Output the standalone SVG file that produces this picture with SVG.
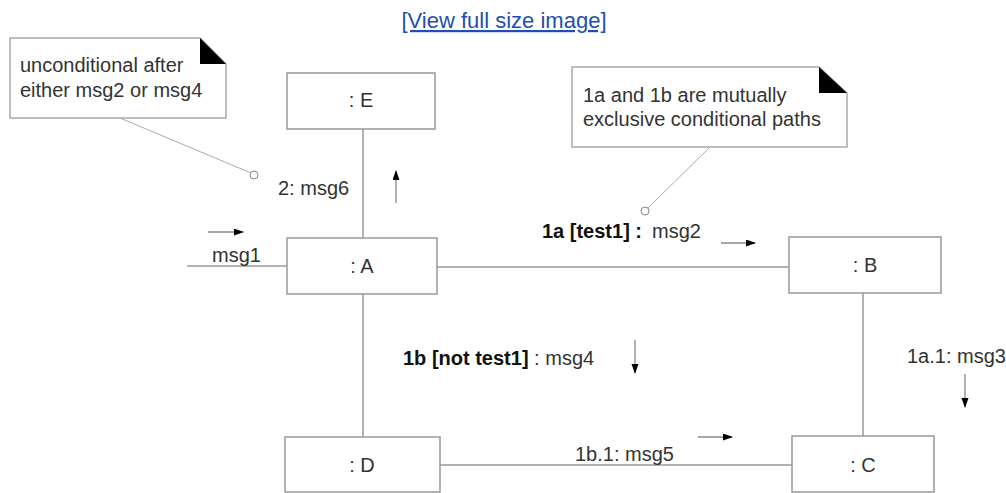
<svg xmlns="http://www.w3.org/2000/svg" width="1006" height="493" viewBox="0 0 1006 493">
<style>
text{font-family:"Liberation Sans",Arial,sans-serif;font-size:20px;fill:#333}
.b{font-weight:bold;fill:#111}
.box{fill:#fff;stroke:#999;stroke-width:1.5}
.link{stroke:#999;stroke-width:1.5;fill:none}
.lead{stroke:#aaa;stroke-width:1;fill:none}
.arr{stroke:#888;stroke-width:1.3;fill:none;marker-end:url(#ah)}
.note{fill:#fff;stroke:#aaa;stroke-width:1.5}
.ear{fill:#000}
.pin{fill:#fff;stroke:#888;stroke-width:1}
.c{text-anchor:middle}
</style>
<defs>
<marker id="ah" markerWidth="10" markerHeight="8" refX="9" refY="3.5" orient="auto" markerUnits="userSpaceOnUse">
<path d="M0,0 L10,3.5 L0,7 Z" fill="#000"/>
</marker>
</defs>
<text x="504" y="28" class="c" style="fill:#1f4fb0;font-size:22px;text-decoration:underline">[View full size image]</text>

<g id="connectors">
<line class="link" x1="187" y1="266" x2="287" y2="266"/>
<line class="link" x1="363" y1="129" x2="363" y2="238"/>
<line class="link" x1="437" y1="267" x2="789" y2="267"/>
<line class="link" x1="363" y1="294" x2="363" y2="437"/>
<line class="link" x1="863" y1="293" x2="863" y2="436"/>
<line class="link" x1="440" y1="465" x2="792" y2="465"/>
<line class="arr" x1="208" y1="232" x2="243" y2="232"/>
<line class="arr" x1="396" y1="203" x2="396" y2="171"/>
<line class="arr" x1="721" y1="243" x2="755" y2="243"/>
<line class="arr" x1="635" y1="340" x2="635" y2="373"/>
<line class="arr" x1="965" y1="374" x2="965" y2="407"/>
<line class="arr" x1="698" y1="437" x2="732" y2="437"/>
<text x="212" y="262">msg1</text>
<text x="278" y="195">2: msg6</text>
<text x="542" y="238" class="b">1a [test1] :</text>
<text x="652" y="238">msg2</text>
<text x="403" y="365"><tspan class="b">1b [not test1]</tspan> : msg4</text>
<text x="907" y="363">1a.1: msg3</text>
<text x="575" y="461">1b.1: msg5</text>
</g>

<g id="note1">
<line class="lead" x1="120" y1="118" x2="251" y2="173"/>
<path class="note" d="M10,38 H200 L226,64 V118 H10 Z"/>
<path class="ear" d="M200,38 L226,64 H200 Z"/>
<circle class="pin" cx="254" cy="175" r="4"/>
<text x="20" y="72">unconditional after</text>
<text x="20" y="97">either msg2 or msg4</text>
</g>

<g id="note2">
<line class="lead" x1="710" y1="147" x2="648" y2="208"/>
<path class="note" d="M572,67 H819 L847,93 V147 H572 Z"/>
<path class="ear" d="M819,67 L847,93 H819 Z"/>
<circle class="pin" cx="645" cy="211" r="4"/>
<text x="583" y="102">1a and 1b are mutually</text>
<text x="583" y="126">exclusive conditional paths</text>
</g>

<g id="nodeE"><rect class="box" x="287" y="73" width="148" height="56"/><text x="361" y="107" class="c">: E</text></g>
<g id="nodeA"><rect class="box" x="287" y="238" width="150" height="56"/><text x="362" y="273" class="c">: A</text></g>
<g id="nodeB"><rect class="box" x="789" y="237" width="152" height="56"/><text x="865" y="272" class="c">: B</text></g>
<g id="nodeD"><rect class="box" x="285" y="437" width="155" height="55"/><text x="362" y="472" class="c">: D</text></g>
<g id="nodeC"><rect class="box" x="792" y="436" width="142" height="56"/><text x="863" y="472" class="c">: C</text></g>
</svg>
